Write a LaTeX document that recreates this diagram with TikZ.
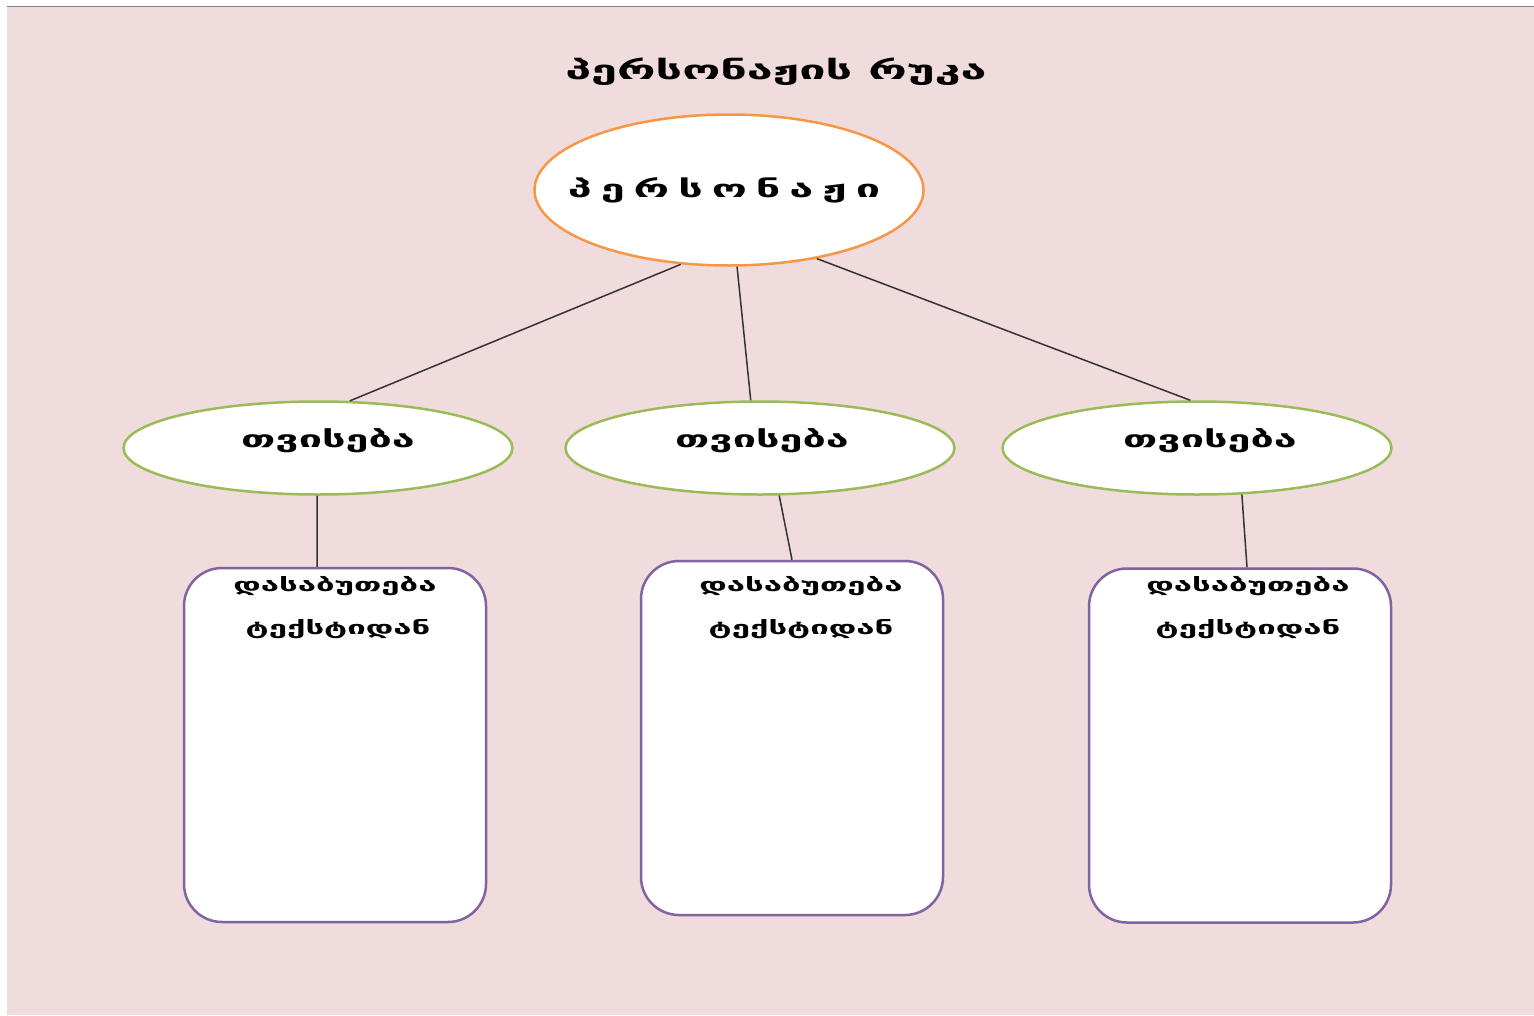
\documentclass[tikz,border=0pt]{standalone}
\usepackage{fontspec}
\setmainfont{DejaVu Sans}
\newfontfamily\geo[FakeStretch=1.8]{DejaVu Sans Bold}
\usetikzlibrary{shapes.geometric}
\definecolor{bgpink}{RGB}{240,220,220}
\definecolor{orangeline}{RGB}{247,150,70}
\definecolor{greenline}{RGB}{155,187,89}
\definecolor{purpleline}{RGB}{128,100,162}
\begin{document}
\begin{tikzpicture}[x=1pt,y=-1pt,
  toplabel/.style={font=\geo\fontsize{26}{30}\selectfont},
  charell/.style={ellipse,draw=orangeline,line width=2.5pt,fill=white,minimum width=389pt,minimum height=151pt,inner sep=0pt},
  traitell/.style={ellipse,draw=greenline,line width=2.5pt,fill=white,minimum width=389pt,minimum height=93pt,inner sep=0pt},
  evbox/.style={rectangle,rounded corners=38pt,draw=purpleline,line width=2.5pt,fill=white,minimum width=302pt,minimum height=354pt,inner sep=0pt},
  txtbig/.style={font=\geo\fontsize{24}{28}\selectfont},
  txtmid/.style={font=\geo\fontsize{23}{27}\selectfont},
  txtsmall/.style={font=\geo\fontsize{18.3}{22}\selectfont},
  conn/.style={draw=black!80,line width=1.5pt}]
\useasboundingbox (0,0) rectangle (1534,1015);
\fill[white] (0,0) rectangle (1534,1015);
\fill[bgpink] (7,7) rectangle (1534,1015);
\draw[gray,line width=1.5pt] (7,6.5) -- (1534,6.5);
\node[toplabel] (title) at (776,72) {პერსონაჟის რუკა};
\node[charell] (char) at (729,190) {};
\node[txtbig] (charlbl) at (724,190) {პ\hspace{9pt}ე\hspace{9pt}რ\hspace{9pt}ს\hspace{9pt}ო\hspace{9pt}ნ\hspace{9pt}ა\hspace{9pt}ჟ\hspace{9pt}ი};
\node[traitell] (t1) at (318,448) {};
\node[traitell] (t2) at (760,448) {};
\node[traitell] (t3) at (1197,448) {};
\node[txtmid] (t1l) at (328,441) {თვისება};
\node[txtmid] (t2l) at (762,441) {თვისება};
\node[txtmid] (t3l) at (1210,441) {თვისება};
\node[evbox] (b1) at (335,745) {};
\node[evbox] (b2) at (792,738) {};
\node[evbox] (b3) at (1240,745.5) {};
\node[txtsmall] (b1a) at (335,586) {დასაბუთება};
\node[txtsmall] (b1b) at (338,629) {ტექსტიდან};
\node[txtsmall] (b2a) at (801,586) {დასაბუთება};
\node[txtsmall] (b2b) at (801,629) {ტექსტიდან};
\node[txtsmall] (b3a) at (1248,586) {დასაბუთება};
\node[txtsmall] (b3b) at (1248,629) {ტექსტიდან};
\draw[conn] (char.237) -- (t1.56);
\draw[conn] (char.276) -- (t2.101);
\draw[conn] (char.322) -- (t3.98);
\draw[conn] (t1.269) -- ([xshift=-18pt]b1.north);
\draw[conn] (t2.292) -- (b2.north);
\draw[conn] (t3.314) -- ([xshift=7pt]b3.north);
\end{tikzpicture}
\end{document}
